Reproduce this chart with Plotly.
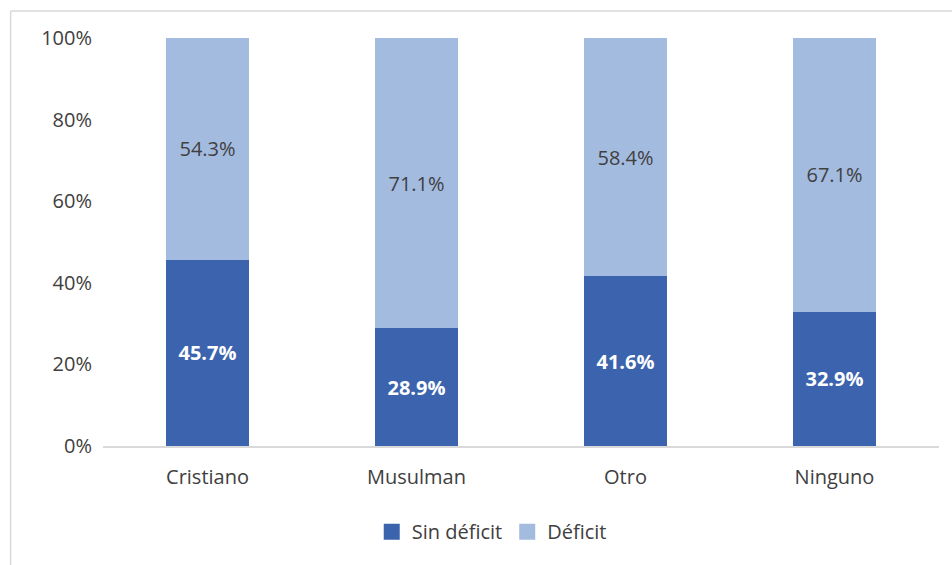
import plotly.graph_objects as go

categories = ["Cristiano", "Musulman", "Otro", "Ninguno"]
sin_deficit = [45.7, 28.9, 41.6, 32.9]
deficit = [54.3, 71.1, 58.4, 67.1]
y_ticks = [0, 20, 40, 60, 80, 100]
y_tick_labels = ["0%", "20%", "40%", "60%", "80%", "100%"]

DARK = "#3C64AE"
LIGHT = "#A4BBE0"
TXT = "#404040"
FONT = "Open Sans"

fig = go.Figure()
fig.add_trace(go.Bar(
    x=categories, y=sin_deficit, name="Sin déficit", marker_color=DARK,
    marker_line_width=0, text=sin_deficit, texttemplate="<b>%{text:.1f}%</b>",
    textposition="inside", insidetextanchor="middle", textangle=0,
    textfont=dict(color="white", size=20, family=FONT), showlegend=False,
    hoverinfo="skip"))
fig.add_trace(go.Bar(
    x=categories, y=deficit, name="Déficit", marker_color=LIGHT,
    marker_line_width=0, text=deficit, texttemplate="%{text:.1f}%",
    textposition="inside", insidetextanchor="middle", textangle=0,
    textfont=dict(color=TXT, size=20, family=FONT), showlegend=False,
    hoverinfo="skip"))
# legend entries
for nm, col in [("Sin déficit", DARK), ("Déficit", LIGHT)]:
    fig.add_trace(go.Scatter(x=[None], y=[None], mode="markers", name=nm,
                             marker=dict(symbol="square", size=17, color=col)))

W, H = 952, 565
L, R, T, B = 102.5, 12.5, 38, 119
pw, ph = W - L - R, H - T - B
bx = (10 - L) / pw
by = (H - B - 11) / ph

fig.update_layout(
    width=W, height=H, barmode="stack", bargap=0.6,
    margin=dict(l=L, r=R, t=T, b=B, autoexpand=False),
    paper_bgcolor="white", plot_bgcolor="white",
    font=dict(family=FONT, size=20, color=TXT),
    legend=dict(orientation="h", x=0.465, xanchor="center", y=-0.21,
                yanchor="middle", font=dict(size=20, color=TXT, family=FONT),
                itemsizing="trace", traceorder="normal"),
    xaxis=dict(showline=True, linecolor="#D9D9D9", linewidth=1.5,
               showgrid=False, ticks="", tickfont=dict(size=20, color=TXT),
               ticklabelstandoff=12),
    yaxis=dict(range=[0, 100], tickvals=y_ticks, ticktext=y_tick_labels,
               showgrid=False, zeroline=False, showline=False,
               tickfont=dict(size=20, color=TXT), ticklabelstandoff=10),
    shapes=[
        dict(type="line", xref="paper", yref="paper", x0=bx, x1=bx,
             y0=-1, y1=by, line=dict(color="#D9D9D9", width=1.5)),
        dict(type="line", xref="paper", yref="paper", x0=bx, x1=1.2,
             y0=by, y1=by, line=dict(color="#D9D9D9", width=1.5)),
    ],
)

fig.write_html("out.html", config={"displayModeBar": False},
               post_script="document.body.style.margin='0';document.body.style.overflow='hidden';")
